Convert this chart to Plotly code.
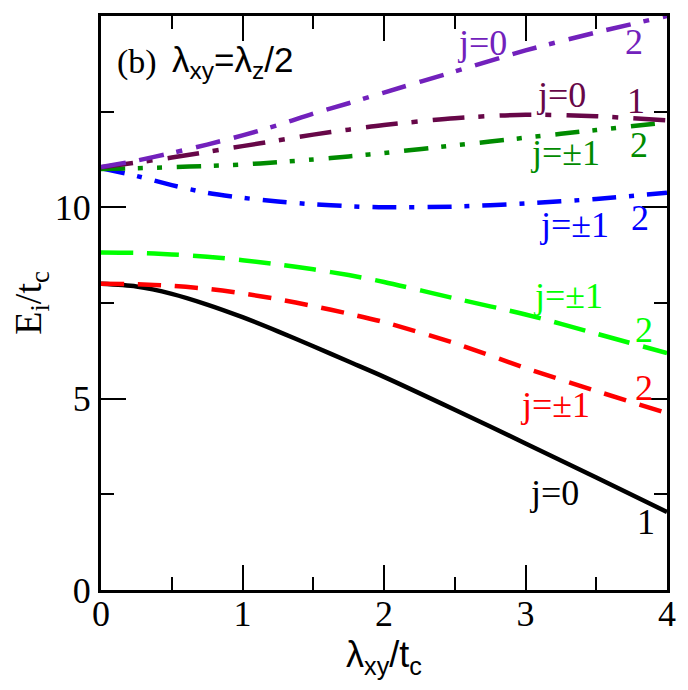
import plotly.graph_objects as go

x = [0, 0.25, 0.5, 0.75, 1, 1.25, 1.5, 1.75, 2, 2.5, 3, 3.5, 4]

black_j0 = [8.0, 7.93, 7.74, 7.46, 7.13, 6.76, 6.37, 5.97, 5.57, 4.71, 3.83, 2.94, 2.04]
red_j1 = [8.0, 7.99, 7.95, 7.87, 7.75, 7.6, 7.42, 7.22, 7.0, 6.45, 5.8, 5.2, 4.62]
lime_j1 = [8.82, 8.81, 8.77, 8.71, 8.62, 8.51, 8.38, 8.23, 8.05, 7.62, 7.2, 6.7, 6.19]
blue_j1 = [11.02, 10.82, 10.58, 10.38, 10.25, 10.15, 10.08, 10.03, 10.0, 10.02, 10.1, 10.22, 10.38]
green_j1 = [11.0, 11.02, 11.05, 11.08, 11.12, 11.18, 11.25, 11.33, 11.42, 11.62, 11.82, 12.02, 12.22]
maroon_j0 = [11.05, 11.17, 11.3, 11.45, 11.6, 11.75, 11.9, 12.03, 12.15, 12.33, 12.42, 12.38, 12.27]
indigo_j0 = [11.05, 11.22, 11.42, 11.64, 11.88, 12.15, 12.45, 12.72, 13.0, 13.55, 14.1, 14.57, 15.0]

series = [
    (black_j0, "black", "solid"),
    (red_j1, "rgb(255,0,0)", "23px,14px"),
    (lime_j1, "rgb(0,255,0)", "32px,14px"),
    (blue_j1, "rgb(0,0,255)", "24px,13px,5px,13px"),
    (green_j1, "rgb(0,139,0)", "24px,13px,5px,14px,5px,15px"),
    (maroon_j0, "rgb(103,7,72)", "32px,14px,6px,15px"),
    (indigo_j0, "rgb(114,33,188)", "25px,14px,25px,13px,6px,14px"),
]

# label texts, positions (data units), colours
labels = [
    ("j=0", 2.69, 14.3, "rgb(114,33,188)"),
    ("2", 3.77, 14.32, "rgb(114,33,188)"),
    ("j=0", 3.25, 12.93, "rgb(103,7,72)"),
    ("1", 3.78, 12.78, "rgb(103,7,72)"),
    ("j=±1", 3.28, 11.42, "rgb(0,139,0)"),
    ("2", 3.80, 11.63, "rgb(0,139,0)"),
    ("j=±1", 3.34, 9.54, "rgb(0,0,255)"),
    ("2", 3.81, 9.72, "rgb(0,0,255)"),
    ("j=±1", 3.30, 7.68, "rgb(0,255,0)"),
    ("2", 3.84, 6.79, "rgb(0,255,0)"),
    ("j=±1", 3.21, 4.83, "rgb(255,0,0)"),
    ("2", 3.84, 5.28, "rgb(255,0,0)"),
    ("j=0", 3.20, 2.53, "black"),
    ("1", 3.85, 1.78, "black"),
]

SERIF = "Liberation Serif, Times New Roman, serif"
SANS = "Liberation Sans, Arial, sans-serif"

fig = go.Figure()
for ys, col, dash in series:
    fig.add_trace(go.Scatter(x=x, y=ys, mode="lines",
                             line=dict(color=col, width=4.5, dash=dash, shape="spline", smoothing=0.8),
                             showlegend=False))

for txt, ax_, ay_, col in labels:
    fig.add_annotation(x=ax_, y=ay_, text=txt, showarrow=False,
                       font=dict(family=SERIF, size=36, color=col), xanchor="center", yanchor="middle")

fig.add_annotation(x=0.1, y=13.8, text="(b)", showarrow=False, xanchor="left", yanchor="middle",
                   font=dict(family=SERIF, size=34, color="black"))
fig.add_annotation(x=0.49, y=13.8, text="λ<sub>xy</sub>=λ<sub>z</sub>/2", showarrow=False,
                   xanchor="left", yanchor="middle", font=dict(family=SANS, size=35, color="black"))

axis_common = dict(
    showgrid=False, zeroline=False, showline=True, linecolor="black", linewidth=3,
    mirror="ticks", ticks="inside", ticklen=25, tickwidth=2, tickcolor="black",
    tickfont=dict(family=SERIF, size=36, color="black"),
)

fig.update_xaxes(range=[0, 4], tickvals=[0, 1, 2, 3, 4], ticktext=["0", "1", "2", "3", "4"],
                 minor=dict(ticks="inside", ticklen=13, tickwidth=2, tickcolor="black", dtick=0.5, tick0=0, showgrid=False),
                 ticklabelstandoff=-10,
                 title=dict(text="λ<sub>xy</sub>/t<sub>c</sub>", font=dict(family=SANS, size=36, color="black"), standoff=4),
                 **axis_common)
fig.update_yaxes(range=[0, 15], tickvals=[0, 5, 10, 15], ticktext=["0", "5", "10", "15"],
                 minor=dict(ticks="inside", ticklen=13, tickwidth=2, tickcolor="black", dtick=2.5, tick0=0, showgrid=False),
                 title=dict(text="E<sub>i</sub>/t<sub>c</sub>", font=dict(family=SERIF, size=38, color="black"), standoff=2),
                 **axis_common)

fig.update_layout(width=688, height=690, margin=dict(l=101, r=13, t=16, b=100),
                  paper_bgcolor="white", plot_bgcolor="white")

fig.write_html("out.html")
